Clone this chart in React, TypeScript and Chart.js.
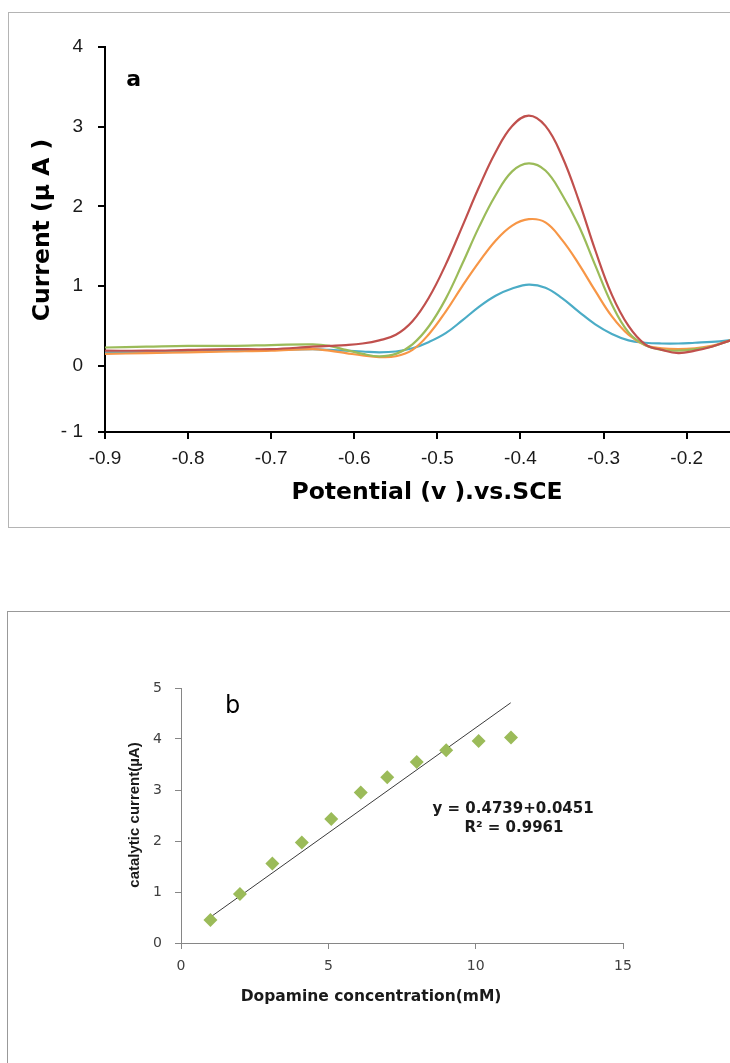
import React, { useEffect, useRef } from "react";
import { Chart, registerables } from "chart.js";

Chart.register(...registerables);

// ---------- Chart (a): voltammograms ----------
const potential = [-0.9, -0.85, -0.8, -0.75, -0.7, -0.65, -0.63, -0.61, -0.59, -0.57, -0.55, -0.53, -0.51, -0.49, -0.47, -0.45, -0.43, -0.41, -0.39, -0.37, -0.35, -0.33, -0.31, -0.29, -0.27, -0.25, -0.23, -0.21, -0.19, -0.17, -0.15, -0.13];
const currentRed = [0.19, 0.19, 0.2, 0.21, 0.21, 0.24, 0.25, 0.26, 0.28, 0.32, 0.39, 0.56, 0.86, 1.27, 1.75, 2.24, 2.68, 3.01, 3.14, 3.01, 2.63, 2.08, 1.45, 0.89, 0.5, 0.27, 0.2, 0.16, 0.19, 0.24, 0.31, 0.36];
const currentGreen = [0.23, 0.24, 0.25, 0.25, 0.26, 0.27, 0.25, 0.2, 0.15, 0.12, 0.15, 0.27, 0.5, 0.84, 1.28, 1.74, 2.14, 2.44, 2.54, 2.45, 2.15, 1.76, 1.26, 0.77, 0.42, 0.26, 0.2, 0.19, 0.21, 0.24, 0.31, 0.36];
const currentOrange = [0.15, 0.16, 0.17, 0.18, 0.19, 0.21, 0.19, 0.16, 0.13, 0.11, 0.12, 0.2, 0.4, 0.68, 1.0, 1.3, 1.57, 1.76, 1.84, 1.8, 1.58, 1.28, 0.94, 0.62, 0.39, 0.26, 0.22, 0.21, 0.22, 0.25, 0.31, 0.36];
const currentBlue = [0.17, 0.17, 0.18, 0.19, 0.2, 0.21, 0.2, 0.19, 0.18, 0.17, 0.18, 0.22, 0.3, 0.41, 0.57, 0.74, 0.88, 0.97, 1.02, 0.98, 0.85, 0.68, 0.52, 0.4, 0.32, 0.29, 0.28, 0.28, 0.29, 0.3, 0.32, 0.35];
const xTicksA = [-0.9, -0.8, -0.7, -0.6, -0.5, -0.4, -0.3, -0.2];
// the reference draws its "- 1" tick closer to 0 than the other steps
const yBottomA = -0.83;
const yTicksA = [yBottomA, 0, 1, 2, 3, 4];
const yTickLabelsA = ["- 1", "0", "1", "2", "3", "4"];

// ---------- Chart (b): calibration ----------
const concentration = [1, 2, 3.1, 4.1, 5.1, 6.1, 7, 8, 9, 10.1, 11.2];
const catalyticCurrent = [0.45, 0.96, 1.56, 1.97, 2.43, 2.95, 3.25, 3.55, 3.78, 3.96, 4.03];
const trendX = [0.98, 11.19];
const trendY = [0.5, 4.71];
const xTicksB = [0, 5, 10, 15];
const yTicksB = [0, 1, 2, 3, 4, 5];

const annotPlugin = {
  id: "annot",
  afterDraw(chart: any, _args: any, opts: any) {
    const items = (opts && opts.items) || [];
    const ctx = chart.ctx;
    const xs = chart.scales.x;
    const ys = chart.scales.y;
    for (const it of items) {
      const px = xs.getPixelForValue(it.x);
      const py = ys.getPixelForValue(it.y);
      ctx.save();
      ctx.translate(px, py);
      if (it.rotate) ctx.rotate(it.rotate);
      ctx.font = it.font;
      ctx.fillStyle = it.color || "#000";
      ctx.textAlign = "center";
      ctx.textBaseline = "middle";
      ctx.fillText(it.text, 0, 0);
      ctx.restore();
    }
  },
};

function line(label: string, data: number[], color: string) {
  return {
    label,
    data: potential.map((x, i) => ({ x, y: data[i] })),
    borderColor: color,
    backgroundColor: color,
    borderWidth: 2.2,
    pointRadius: 0,
    tension: 0.4,
    fill: false,
  };
}

function ChartA() {
  const ref = useRef<HTMLCanvasElement | null>(null);
  useEffect(() => {
    if (!ref.current) return;
    const tickFont = { family: '"Liberation Sans", Arial, sans-serif', size: 19 };
    const titleFont = 'bold 23.5px "DejaVu Sans", sans-serif';
    const chart = new Chart(ref.current, {
      type: "line",
      data: {
        datasets: [
          line("red", currentRed, "#C0504D"),
          line("green", currentGreen, "#9BBB59"),
          line("orange", currentOrange, "#F79646"),
          line("blue", currentBlue, "#4BACC6"),
        ],
      },
      options: {
        responsive: false,
        animation: false,
        layout: { padding: { left: 0, top: 35, right: 19, bottom: 0 } },
        plugins: {
          legend: { display: false },
          tooltip: { enabled: false },
          annot: {
            items: [
              { text: "a", x: -0.8655, y: 3.58, font: 'bold 22px "DejaVu Sans", sans-serif' },
              { text: "Potential (v ).vs.SCE", x: -0.5125, y: -1.59, font: titleFont },
              { text: "Current (µ A )", x: -0.9746, y: 1.705, rotate: -Math.PI / 2, font: titleFont },
            ],
          },
        } as any,
        scales: {
          x: {
            type: "linear",
            min: -0.9,
            max: -0.125,
            afterBuildTicks: (s: any) => {
              s.ticks = xTicksA.map((v) => ({ value: v }));
            },
            afterFit: (s: any) => {
              s.height = 95;
            },
            ticks: {
              font: tickFont,
              color: "#1a1a1a",
              padding: 8,
              callback: (v: any) => Number(v).toFixed(1),
            },
            grid: { drawOnChartArea: false, tickLength: 7, color: "#000", lineWidth: 2 },
            border: { color: "#000", width: 2 },
          },
          y: {
            type: "linear",
            min: yBottomA,
            max: 4,
            afterBuildTicks: (s: any) => {
              s.ticks = yTicksA.map((v) => ({ value: v }));
            },
            afterFit: (s: any) => {
              s.width = 97;
            },
            ticks: {
              font: tickFont,
              color: "#1a1a1a",
              padding: 15,
              callback: (v: any) => {
                const i = yTicksA.indexOf(Number(v));
                return i >= 0 ? yTickLabelsA[i] : "";
              },
            },
            grid: { drawOnChartArea: false, tickLength: 7, color: "#000", lineWidth: 2 },
            border: { color: "#000", width: 2 },
          },
        },
      },
      plugins: [annotPlugin],
    } as any);
    return () => chart.destroy();
  }, []);
  return (
    <canvas
      ref={ref}
      width={760}
      height={515}
      style={{ position: "absolute", left: 8, top: 12, width: 760, height: 515 }}
    />
  );
}

function ChartB() {
  const ref = useRef<HTMLCanvasElement | null>(null);
  useEffect(() => {
    if (!ref.current) return;
    const tickFont = { family: '"DejaVu Sans", sans-serif', size: 14 };
    const chart = new Chart(ref.current, {
      type: "scatter",
      data: {
        datasets: [
          {
            label: "catalytic current",
            data: concentration.map((x, i) => ({ x, y: catalyticCurrent[i] })),
            pointStyle: "rectRot",
            pointRadius: 7,
            pointBackgroundColor: "#9BBB59",
            pointBorderWidth: 0,
            showLine: false,
          },
          {
            type: "line",
            label: "linear fit",
            data: trendX.map((x, i) => ({ x, y: trendY[i] })),
            borderColor: "#3a3a3a",
            borderWidth: 1,
            pointRadius: 0,
            fill: false,
          },
        ],
      },
      options: {
        responsive: false,
        animation: false,
        layout: { padding: { left: 0, top: 77, right: 107, bottom: 0 } },
        plugins: {
          legend: { display: false },
          tooltip: { enabled: false },
          annot: {
            items: [
              { text: "b", x: 1.75, y: 4.63, font: '24px "DejaVu Sans", sans-serif' },
              { text: "y = 0.4739+0.0451", x: 11.27, y: 2.63, font: 'bold 15px "DejaVu Sans", sans-serif', color: "#1a1a1a" },
              { text: "R² = 0.9961", x: 11.3, y: 2.25, font: 'bold 15px "DejaVu Sans", sans-serif', color: "#1a1a1a" },
              { text: "Dopamine concentration(mM)", x: 6.45, y: -1.06, font: 'bold 15.5px "DejaVu Sans", sans-serif', color: "#1a1a1a" },
              { text: "catalytic current(µA)", x: -1.56, y: 2.51, rotate: -Math.PI / 2, font: 'bold 15px "Liberation Sans", Arial, sans-serif', color: "#1a1a1a" },
            ],
          },
        } as any,
        scales: {
          x: {
            type: "linear",
            min: 0,
            max: 15,
            afterBuildTicks: (s: any) => {
              s.ticks = xTicksB.map((v) => ({ value: v }));
            },
            afterFit: (s: any) => {
              s.height = 120;
            },
            ticks: { font: tickFont, color: "#404040", padding: 9 },
            grid: { drawOnChartArea: false, tickLength: 6, color: "#868686", lineWidth: 1 },
            border: { color: "#868686", width: 1 },
          },
          y: {
            type: "linear",
            min: 0,
            max: 5,
            afterBuildTicks: (s: any) => {
              s.ticks = yTicksB.map((v) => ({ value: v }));
            },
            afterFit: (s: any) => {
              s.width = 174;
            },
            ticks: { font: tickFont, color: "#404040", padding: 13 },
            grid: { drawOnChartArea: false, tickLength: 6, color: "#868686", lineWidth: 1 },
            border: { color: "#868686", width: 1 },
          },
        },
      },
      plugins: [annotPlugin],
    } as any);
    return () => chart.destroy();
  }, []);
  return (
    <canvas
      ref={ref}
      width={723}
      height={452}
      style={{ position: "absolute", left: 7, top: 611, width: 723, height: 452 }}
    />
  );
}

export default function App() {
  return (
    <div
      style={{
        position: "absolute",
        left: 0,
        top: 0,
        width: 730,
        height: 1063,
        overflow: "hidden",
        background: "#fff",
      }}
    >
      <div
        style={{
          position: "absolute",
          left: 8,
          top: 12,
          width: 780,
          height: 516,
          border: "1px solid #b4b4b4",
          boxSizing: "border-box",
        }}
      />
      <div
        style={{
          position: "absolute",
          left: 7,
          top: 611,
          width: 780,
          height: 520,
          border: "1px solid #999",
          boxSizing: "border-box",
        }}
      />
      <ChartA />
      <ChartB />
    </div>
  );
}
